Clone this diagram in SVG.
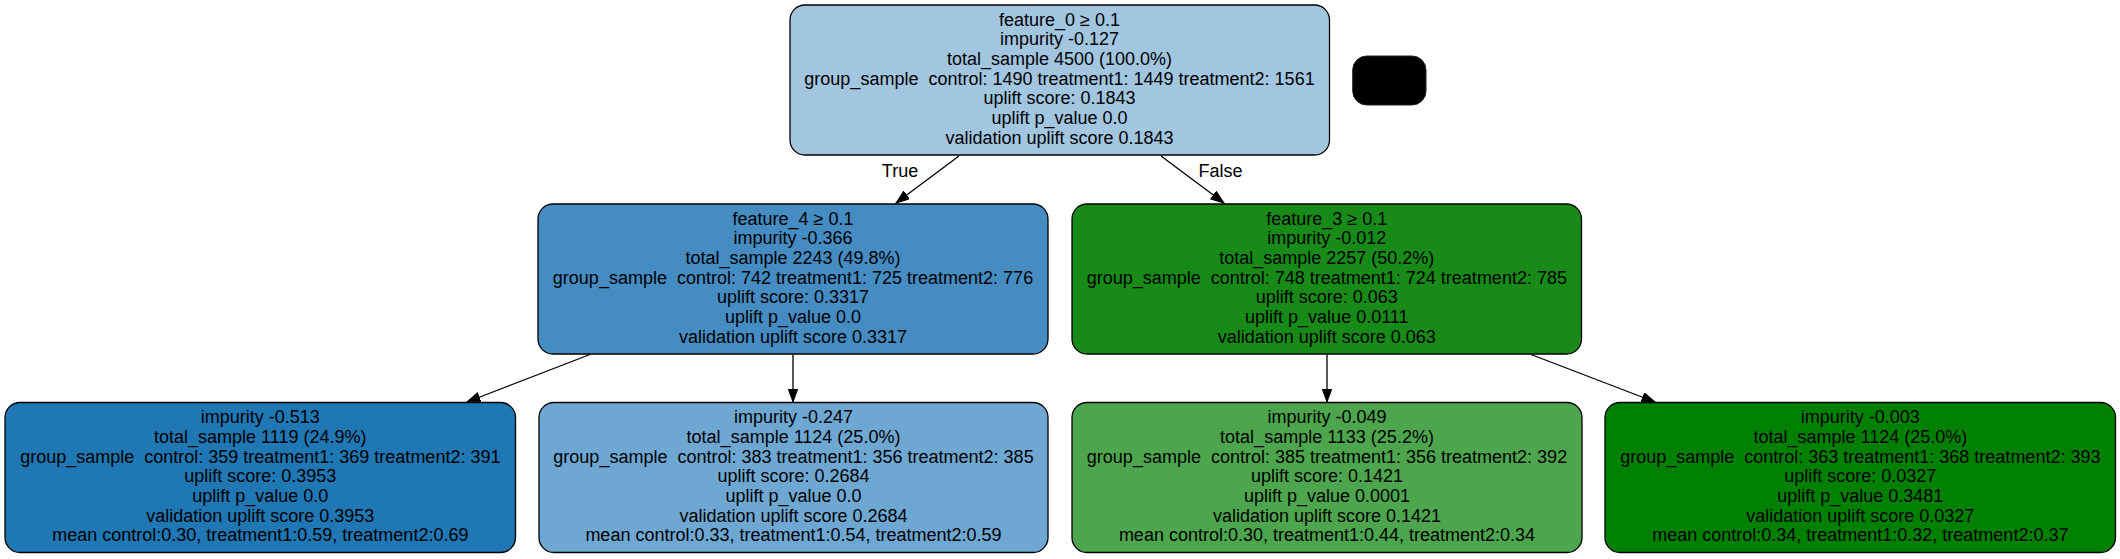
<svg xmlns="http://www.w3.org/2000/svg" width="2120" height="559" viewBox="0 0 2120 559">
<style>
.nd{stroke:#000;stroke-width:1.3}
.t{font-family:"Liberation Sans",Arial,Helvetica,sans-serif;font-size:18px;fill:#000;text-anchor:middle;white-space:pre}
.e{stroke:#000;stroke-width:1.3;fill:none}
</style>
<defs>
<marker id="ah" markerUnits="userSpaceOnUse" markerWidth="16" markerHeight="12" refX="13.5" refY="5" orient="auto" viewBox="0 0 16 12">
<path d="M0.5,0.3 L13.5,5 L0.5,9.7 Z" fill="#000" stroke="#000" stroke-width="1"/>
</marker>
</defs>
<rect x="0" y="0" width="2120" height="559" fill="#fff"/>
<g id="edges">
<line class="e" x1="959" y1="156" x2="896" y2="203" marker-end="url(#ah)"/>
<line class="e" x1="1161" y1="156" x2="1224" y2="203" marker-end="url(#ah)"/>
<line class="e" x1="590" y1="354.5" x2="467" y2="402" marker-end="url(#ah)"/>
<line class="e" x1="793" y1="354.5" x2="793" y2="402" marker-end="url(#ah)"/>
<line class="e" x1="1327" y1="354.5" x2="1327" y2="402" marker-end="url(#ah)"/>
<line class="e" x1="1531" y1="354.5" x2="1655" y2="402" marker-end="url(#ah)"/>
<text class="t" x="900" y="177">True</text>
<text class="t" x="1220.5" y="177">False</text>
</g>
<g id="node0">
<rect class="nd" x="790" y="5" width="539.5" height="150" rx="15" fill="#a2c6e0"/>
<text class="t" xml:space="preserve"><tspan x="1059.5" y="25.6">feature_0 ≥ 0.1</tspan><tspan x="1059.5" y="45.3">impurity -0.127</tspan><tspan x="1059.5" y="65">total_sample 4500 (100.0%)</tspan><tspan x="1059.5" y="84.7">group_sample  control: 1490 treatment1: 1449 treatment2: 1561</tspan><tspan x="1059.5" y="104.4">uplift score: 0.1843</tspan><tspan x="1059.5" y="124.1">uplift p_value 0.0</tspan><tspan x="1059.5" y="143.8">validation uplift score 0.1843</tspan></text>
</g>
<g id="legend">
<rect x="1352.7" y="56" width="73.3" height="49" rx="14" fill="#000" stroke="#222" stroke-width="1"/>
</g>
<g id="node1">
<rect class="nd" x="538" y="204" width="510" height="150" rx="15" fill="#458cc2"/>
<text class="t" xml:space="preserve"><tspan x="793" y="224.6">feature_4 ≥ 0.1</tspan><tspan x="793" y="244.3">impurity -0.366</tspan><tspan x="793" y="264">total_sample 2243 (49.8%)</tspan><tspan x="793" y="283.7">group_sample  control: 742 treatment1: 725 treatment2: 776</tspan><tspan x="793" y="303.4">uplift score: 0.3317</tspan><tspan x="793" y="323.1">uplift p_value 0.0</tspan><tspan x="793" y="342.8">validation uplift score 0.3317</tspan></text>
</g>
<g id="node2">
<rect class="nd" x="1072" y="204" width="509.5" height="150" rx="15" fill="#178a17"/>
<text class="t" xml:space="preserve"><tspan x="1326.8" y="224.6">feature_3 ≥ 0.1</tspan><tspan x="1326.8" y="244.3">impurity -0.012</tspan><tspan x="1326.8" y="264">total_sample 2257 (50.2%)</tspan><tspan x="1326.8" y="283.7">group_sample  control: 748 treatment1: 724 treatment2: 785</tspan><tspan x="1326.8" y="303.4">uplift score: 0.063</tspan><tspan x="1326.8" y="323.1">uplift p_value 0.0111</tspan><tspan x="1326.8" y="342.8">validation uplift score 0.063</tspan></text>
</g>
<g id="node3">
<rect class="nd" x="5" y="402.5" width="510.5" height="150" rx="15" fill="#1f77b4"/>
<text class="t" xml:space="preserve"><tspan x="260.3" y="423.1">impurity -0.513</tspan><tspan x="260.3" y="442.8">total_sample 1119 (24.9%)</tspan><tspan x="260.3" y="462.5">group_sample  control: 359 treatment1: 369 treatment2: 391</tspan><tspan x="260.3" y="482.2">uplift score: 0.3953</tspan><tspan x="260.3" y="501.9">uplift p_value 0.0</tspan><tspan x="260.3" y="521.6">validation uplift score 0.3953</tspan><tspan x="260.3" y="541.3">mean control:0.30, treatment1:0.59, treatment2:0.69</tspan></text>
</g>
<g id="node4">
<rect class="nd" x="539" y="402.5" width="509" height="150" rx="15" fill="#6ea8d2"/>
<text class="t" xml:space="preserve"><tspan x="793.5" y="423.1">impurity -0.247</tspan><tspan x="793.5" y="442.8">total_sample 1124 (25.0%)</tspan><tspan x="793.5" y="462.5">group_sample  control: 383 treatment1: 356 treatment2: 385</tspan><tspan x="793.5" y="482.2">uplift score: 0.2684</tspan><tspan x="793.5" y="501.9">uplift p_value 0.0</tspan><tspan x="793.5" y="521.6">validation uplift score 0.2684</tspan><tspan x="793.5" y="541.3">mean control:0.33, treatment1:0.54, treatment2:0.59</tspan></text>
</g>
<g id="node5">
<rect class="nd" x="1072" y="402.5" width="510" height="150" rx="15" fill="#4da64d"/>
<text class="t" xml:space="preserve"><tspan x="1327" y="423.1">impurity -0.049</tspan><tspan x="1327" y="442.8">total_sample 1133 (25.2%)</tspan><tspan x="1327" y="462.5">group_sample  control: 385 treatment1: 356 treatment2: 392</tspan><tspan x="1327" y="482.2">uplift score: 0.1421</tspan><tspan x="1327" y="501.9">uplift p_value 0.0001</tspan><tspan x="1327" y="521.6">validation uplift score 0.1421</tspan><tspan x="1327" y="541.3">mean control:0.30, treatment1:0.44, treatment2:0.34</tspan></text>
</g>
<g id="node6">
<rect class="nd" x="1605" y="402.5" width="510.5" height="150" rx="15" fill="#008000"/>
<text class="t" xml:space="preserve"><tspan x="1860.3" y="423.1">impurity -0.003</tspan><tspan x="1860.3" y="442.8">total_sample 1124 (25.0%)</tspan><tspan x="1860.3" y="462.5">group_sample  control: 363 treatment1: 368 treatment2: 393</tspan><tspan x="1860.3" y="482.2">uplift score: 0.0327</tspan><tspan x="1860.3" y="501.9">uplift p_value 0.3481</tspan><tspan x="1860.3" y="521.6">validation uplift score 0.0327</tspan><tspan x="1860.3" y="541.3">mean control:0.34, treatment1:0.32, treatment2:0.37</tspan></text>
</g>
</svg>
